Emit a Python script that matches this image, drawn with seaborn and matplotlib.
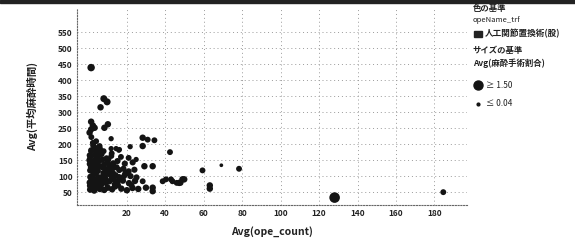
import seaborn as sns
from matplotlib import pyplot as plt
from matplotlib.lines import Line2D
from matplotlib.patches import Rectangle
import pandas as pd

# values: Avg(ope_count), Avg(平均麻酔時間), Avg(麻酔手術割合)
ope_count = [
    1.5, 8.1, 9.8, 6.4, 1.5, 2.4, 1.5, 10.2, 0.7, 3.3, 8.4,
    4.1, 5.9, 2.4, 1.5, 5.9, 11.9, 15.9, 21.8, 16.2, 14.5, 11.9,
    28.3, 30.9, 34.4, 28.3, 42.5, 29.2, 33.5, 24.9,
    28.3, 30.0, 33.5, 33.5, 38.7, 40.4, 43.8, 47.3, 49.9, 46.0, 43.0, 49.0, 48.0,
    59.4, 69.2, 78.4, 63.2, 63.2, 128.1, 184.6,
    # dense block
    1.0, 2.0, 3.1, 4.2, 6.0, 8.3, 10.1, 12.4, 14.0, 17.2, 20.1, 23.0, 26.0,
    0.8, 2.2, 3.5, 5.1, 7.0, 9.2, 11.0, 13.3, 15.1, 18.0, 21.2, 24.3,
    1.1, 2.5, 4.0, 6.2, 8.0, 10.3, 12.1, 14.2, 16.0, 19.1, 22.0, 25.1,
    1.0, 3.0, 5.0, 7.2, 9.0, 11.1, 13.2, 16.1, 18.3, 21.0, 24.0,
    0.8, 2.5, 4.1, 6.0, 8.2, 10.0, 13.0, 15.2, 19.0, 23.1,
    1.0, 3.2, 5.1, 7.0, 9.5, 12.0, 17.0, 21.0,
    1.5, 4.0, 6.1, 8.0, 12.2,
    0.9, 1.8, 2.9, 3.8, 5.5, 7.5, 9.7, 11.6, 13.8, 16.5, 19.5, 0.6, 1.4, 2.6,
    3.4, 4.6, 6.7, 8.8, 10.8, 12.9, 15.5, 18.6, 22.5, 1.2, 2.0, 2.8, 3.9,
    5.3, 7.8, 10.5, 14.8, 17.7, 20.4, 0.7, 1.6, 2.3, 3.6, 4.8, 6.5, 9.0,
]
anes_time = [
    439, 342, 332, 315, 270, 258, 246, 262, 236, 251, 251,
    209, 194, 204, 178, 173, 217, 181, 192, 183, 186, 186,
    220, 214, 212, 194, 175, 131, 131, 152,
    84, 64, 64, 53, 84, 90, 84, 79, 90, 79, 90, 90, 79,
    118, 134, 123, 71, 61, 33, 50,
    58, 62, 55, 66, 60, 57, 64, 59, 68, 61, 56, 63, 60,
    80, 86, 78, 83, 88, 79, 84, 90, 81, 86, 78, 85,
    98, 104, 108, 96, 101, 107, 99, 103, 97, 105, 100, 96,
    118, 124, 116, 128, 121, 117, 126, 119, 123, 115, 120,
    138, 146, 141, 149, 136, 144, 140, 147, 139, 143,
    158, 166, 161, 169, 156, 163, 160, 157,
    181, 176, 186, 178, 171,
    70, 73, 92, 112, 133, 152, 113, 134, 74, 94, 110, 150, 128, 196,
    110, 155, 72, 92, 131, 110, 72, 100, 72, 95, 120, 72, 188,
    96, 110, 152, 128, 92, 110, 165, 222, 132, 152, 128, 72, 92,
]
ratio = [
    0.7, 0.6, 0.6, 0.5, 0.5, 0.5, 0.5, 0.5, 0.5, 0.5, 0.5,
    0.4, 0.4, 0.4, 0.4, 0.4, 0.3, 0.3, 0.3, 0.3, 0.3, 0.3,
    0.5, 0.4, 0.4, 0.5, 0.4, 0.5, 0.5, 0.3,
    0.4, 0.5, 0.5, 0.5, 0.4, 0.4, 0.4, 0.5, 0.5, 0.4, 0.4, 0.5, 0.4,
    0.4, 0.1, 0.4, 0.5, 0.5, 1.5, 0.4,
] + [0.5] * 13 + [0.5] * 12 + [0.45] * 12 + [0.45] * 11 + [0.45] * 10 \
  + [0.4] * 8 + [0.4] * 5 + [0.45] * 14 + [0.4] * 13 + [0.4] * 13

df = pd.DataFrame({"ope_count": ope_count, "anes_time": anes_time, "ratio": ratio})

sns.set_style("white")
plt.rcParams["font.family"] = ["Noto Sans CJK JP", "DejaVu Sans"]

fig = plt.figure(figsize=(5.75, 2.44), dpi=100)
ax = fig.add_axes([0.1334, 0.16, 0.679, 0.807])

sns.scatterplot(data=df, x="ope_count", y="anes_time", size="ratio",
                sizes=(5, 58), size_norm=(0.04, 1.5), color="#141414",
                edgecolor="none", legend=False, ax=ax)

ax.set_xlim(-6, 197)
ax.set_ylim(10, 625)
ax.set_xticks(range(20, 181, 20))
ax.set_yticks(range(50, 551, 50))
ax.grid(True, linestyle=(0, (1, 3)), color="#9a9a9a", linewidth=0.7)
for side in ["top", "right"]:
    ax.spines[side].set_visible(False)
for side in ["left", "bottom"]:
    ax.spines[side].set_linestyle((0, (1, 1.5)))
    ax.spines[side].set_color("#666")
    ax.spines[side].set_linewidth(0.8)
ax.tick_params(length=0, labelsize=6, colors="#222", pad=3)
for t in ax.get_xticklabels() + ax.get_yticklabels():
    t.set_fontweight("bold")

ax.set_xlabel("Avg(ope_count)", fontsize=7.5, fontweight="bold", color="#222", labelpad=6)
ax.set_ylabel("Avg(平均麻酔時間)", fontsize=7.5, fontweight="bold", color="#222", labelpad=14)

# legend drawn on the right
lx = 0.822
fig.text(lx, 1 - 9 / 244, "色の基準", fontsize=6, fontweight="bold", va="center", color="#222")
fig.text(lx, 1 - 20 / 244, "opeName_trf", fontsize=5.5, va="center", color="#222")
fig.patches.append(Rectangle((lx + 0.003, 1 - 37 / 244), 0.013, 6 / 244,
                             transform=fig.transFigure, color="#222"))
fig.text(lx + 0.022, 1 - 34 / 244, "人工関節置換術(股)", fontsize=6.2, fontweight="bold",
         va="center", color="#222")
fig.text(lx, 1 - 50 / 244, "サイズの基準", fontsize=6, fontweight="bold", va="center", color="#222")
fig.text(lx, 1 - 63 / 244, "Avg(麻酔手術割合)", fontsize=6, fontweight="bold", va="center", color="#222")
fig.add_artist(Line2D([lx + 0.009], [1 - 85 / 244], marker="o", markersize=6.5,
                      color="#141414", transform=fig.transFigure))
fig.text(lx + 0.024, 1 - 85 / 244, "≥ 1.50", fontsize=6, va="center", color="#222")
fig.add_artist(Line2D([lx + 0.009], [1 - 104 / 244], marker="o", markersize=2,
                      color="#141414", transform=fig.transFigure))
fig.text(lx + 0.024, 1 - 104 / 244, "≤ 0.04", fontsize=6, va="center", color="#222")

# dark band along the top edge of the scan
fig.patches.append(Rectangle((0, 0.988), 1, 0.012, transform=fig.transFigure, color="#222"))

fig.savefig("out.png", dpi=100)
